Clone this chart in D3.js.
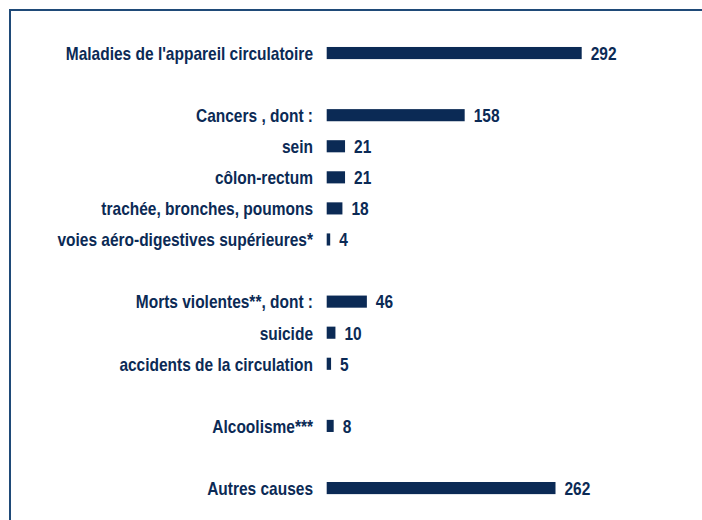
<!DOCTYPE html>
<html lang="fr">
	<head>
		<meta charset="utf-8">
		<title>Causes de décès</title>
		<script src="https://cdn.jsdelivr.net/npm/d3@7"></script>
		<style type="text/css">
			body { margin: 0; background: #fff; }
			text { font-family: "Liberation Sans", Arial, sans-serif; font-weight: bold; }
		</style>
	</head>
	<body>
		<script type="text/javascript">

			//Width and height
			var w = 702;
			var h = 520;

			//Data
			var labels = [
				"Maladies de l'appareil circulatoire",
				"Cancers , dont :",
				"sein",
				"côlon-rectum",
				"trachée, bronches, poumons",
				"voies aéro-digestives supérieures*",
				"Morts violentes**, dont :",
				"suicide",
				"accidents de la circulation",
				"Alcoolisme***",
				"Autres causes"
			];
			var values = [292, 158, 21, 21, 18, 4, 46, 10, 5, 8, 262];
			var groups = [0, 1, 1, 1, 1, 1, 2, 2, 2, 3, 4];

			var navy = "#0b2a55";
			var squeeze = 0.815;  //no narrow font installed, so squeeze the text

			//Rows, with an empty row between groups
			var rows = [];
			labels.forEach(function(d, i) {
				if (i > 0 && groups[i] !== groups[i - 1]) rows.push("gap" + i);
				rows.push(d);
			});

			var svg = d3.select("body")
						.append("svg")
						.attr("width", w)
						.attr("height", h);

			//Frame: top and left edge only
			svg.append("path")
				.attr("d", "M10,520 V10 H702")
				.attr("fill", "none")
				.attr("stroke", "#1f4a78")
				.attr("stroke-width", 2);

			var yScale = d3.scaleBand()
						.domain(rows)
						.range([37.5, 503.6])
						.paddingInner(0.61)
						.paddingOuter(0.305);

			var xScale = d3.scaleLinear()
						.domain([0, 292])
						.range([326.7, 581.7]);

			var data = labels.map(function(d, i) { return { label: d, value: values[i] }; });

			var midY = function(d) { return yScale(d.label) + yScale.bandwidth() / 2; };

			//Bars
			svg.selectAll("rect.bar")
				.data(data)
				.enter()
				.append("rect")
				.attr("class", "bar")
				.attr("x", xScale(0))
				.attr("y", function(d) { return yScale(d.label); })
				.attr("width", function(d) { return xScale(d.value) - xScale(0); })
				.attr("height", yScale.bandwidth())
				.attr("fill", navy);

			//Category labels
			svg.selectAll("text.label")
				.data(data)
				.enter()
				.append("text")
				.attr("class", "label")
				.attr("transform", function(d) {
					return "translate(313," + midY(d) + ") scale(" + squeeze + ",1)";
				})
				.attr("dy", "0.36em")
				.attr("text-anchor", "end")
				.attr("font-size", "19px")
				.attr("fill", navy)
				.text(function(d) { return d.label; });

			//Value labels
			svg.selectAll("text.value")
				.data(data)
				.enter()
				.append("text")
				.attr("class", "value")
				.attr("transform", function(d) {
					return "translate(" + (xScale(d.value) + 9) + "," + midY(d) + ") scale(" + squeeze + ",1)";
				})
				.attr("dy", "0.36em")
				.attr("font-size", "19px")
				.attr("fill", navy)
				.text(function(d) { return d.value; });

		</script>
	</body>
</html>
